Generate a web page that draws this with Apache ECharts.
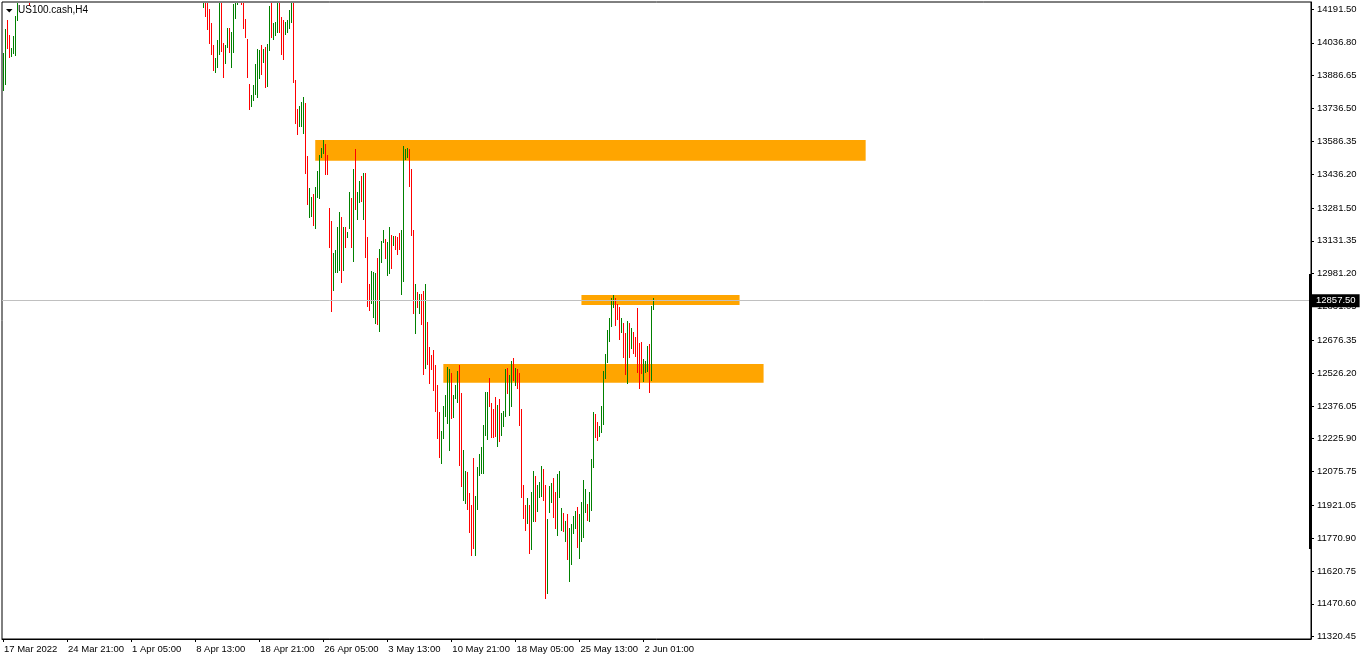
<!DOCTYPE html>
<html>
<head>
<meta charset="utf-8">
<script src="https://cdn.jsdelivr.net/npm/echarts@6/dist/echarts.min.js"></script>
<style>
html,body{margin:0;padding:0;background:#fff;}
#chart{width:1362px;height:660px;}
</style>
</head>
<body>
<div id="chart"></div>
<script>
// ---- data (US100.cash, H4) ----
var dateLabels = ["17 Mar 2022","24 Mar 21:00","1 Apr 05:00","8 Apr 13:00","18 Apr 21:00","26 Apr 05:00","3 May 13:00","10 May 21:00","18 May 05:00","25 May 13:00","2 Jun 01:00"];
var priceLabels = ["14191.50","14036.80","13886.65","13736.50","13586.35","13436.20","13281.50","13131.35","12981.20","12831.05","12676.35","12526.20","12376.05","12225.90","12075.75","11921.05","11770.90","11620.75","11470.60","11320.45"];
var highs = [
13990,14100,14141,14073,14013,14068,14160,14270,14330,14380,
14360,14420,14400,14300,14350,14410,14470,14520,14500,14560,
14610,14590,14640,14700,14680,14650,14720,14790,14760,14820,
14850,14830,14800,14760,14830,14900,14960,15010,14990,15060,
15120,15180,15230,15200,15150,15090,15030,15000,15060,15040,
14980,14920,14960,15010,14990,14930,14880,14850,14900,14940,
14910,14870,14820,14760,14700,14650,14690,14730,14710,14660,
14600,14560,14600,14640,14620,14580,14530,14490,14540,14590,
14570,14520,14470,14430,14470,14500,14460,14410,14380,14420,
14450,14410,14370,14340,14390,14420,14380,14340,14320,14330,
14290,14260,14235,14190,14126,14027,13966,14050,14250,14245,
14035,14027,14106,14103,14085,14214,14245,14260,14290,14270,
14250,14146,14053,13849,13798,13844,13940,14007,14004,14027,
14009,14019,14030,14205,14240,14126,14131,14245,14250,14156,
14141,14133,14141,14187,14240,14245,13867,13734,13748,13768,
13790,13763,13519,13371,13333,13345,13379,13452,13524,13557,
13592,13574,13524,13280,13222,13074,13089,13196,13262,13242,
13196,13196,13173,13353,13328,13460,13551,13356,13406,13428,
13440,13440,13150,12934,12992,12987,12983,13054,13094,13130,
13181,13140,13127,13193,13156,13153,13153,13147,13166,13181,
13565,13551,13557,13551,13458,13181,12934,12896,12888,12888,
12900,12934,12760,12644,12609,12632,12563,12472,12350,12261,
12376,12426,12553,12545,12525,12426,12472,12536,12563,12437,
12174,12078,12072,11976,11923,12136,11964,12095,12156,12190,
12289,12441,12441,12505,12391,12362,12418,12380,12408,12345,
12353,12545,12548,12518,12582,12594,12548,12544,12525,12361,
12014,11923,11956,11923,11984,12080,12056,12014,12029,12101,
12088,12014,11859,12010,12025,12048,11984,12065,12080,11908,
11888,11851,11882,11816,11836,11873,11897,11912,11882,11938,
12037,11996,11927,11981,12132,12347,12339,12301,12284,12376,
12536,12614,12723,12777,12871,12883,12871,12842,12830,12777,
12757,12708,12766,12757,12731,12716,12693,12823,12662,12670,
12591,12582,12650,12658,12835,12871];
var lows = [
13821,13849,14013,13972,13977,13990,13981,14141,14250,14290,
14280,14320,14300,14210,14250,14330,14390,14430,14440,14470,
14520,14500,14550,14600,14610,14560,14620,14690,14680,14730,
14770,14740,14700,14660,14720,14800,14860,14920,14900,14950,
15020,15080,15120,15100,15040,14980,14930,14900,14950,14930,
14870,14810,14850,14910,14880,14820,14770,14740,14800,14840,
14800,14770,14700,14640,14590,14540,14580,14620,14600,14540,
14480,14450,14500,14530,14510,14470,14420,14380,14430,14480,
14460,14410,14360,14330,14370,14400,14360,14310,14290,14320,
14350,14320,14280,14260,14290,14320,14290,14260,14245,14250,
14199,14161,14100,14035,13986,13913,13905,13928,13986,13999,
13882,13943,14016,13994,13928,13994,14152,14214,14230,14214,
14103,14065,13882,13736,13748,13775,13801,13790,13877,13894,
13948,13836,13841,14004,14065,14053,14073,14085,14085,13984,
13963,14076,14085,14103,14133,13858,13672,13618,13658,13658,
13623,13440,13300,13242,13245,13204,13191,13330,13328,13513,
13532,13437,13435,13104,12812,12906,12987,12987,12998,12942,
12998,13104,13150,13188,13104,13040,13277,13230,13310,13315,
13231,13059,12835,12815,12848,12784,12754,12749,12720,13036,
13127,13054,12975,12985,13006,13113,13094,13071,13092,12888,
12949,13505,13513,13383,13158,12802,12711,12830,12800,12751,
12522,12548,12568,12482,12545,12449,12351,12231,12144,12114,
12231,12330,12299,12174,12322,12327,12414,12393,12106,12011,
11946,11931,11905,11801,11694,11725,11694,11905,12060,12071,
12071,12243,12225,12376,12235,12232,12238,12193,12216,12243,
12284,12330,12434,12335,12376,12495,12472,12457,12289,11961,
11865,11809,11842,11705,11722,11851,11851,11897,11961,11964,
11946,11496,11522,11892,11935,11867,11819,11786,11958,11809,
11804,11758,11676,11577,11653,11793,11819,11732,11679,11760,
11775,11889,11854,11851,11900,12098,12235,12220,12238,12258,
12292,12505,12576,12673,12743,12830,12746,12772,12681,12716,
12601,12522,12482,12601,12642,12617,12606,12530,12457,12528,
12491,12530,12536,12441,12495,12819];
// G = bullish bar, R = bearish bar
var directions = ["GGRRGGGGGG","RGRRGGGRGG","GRGGRRGGRG","GRRGGGGRGG","GGRRRRRGRR","RGGRRRRGGR","RRRRRGGRRR","RGGRRRRGGR","RRRGGRRRGG","RRRRGGRRRG","GRRRRRGGGR","RGGRGGGGRR","RRRRGGGGGR","GRGGRGGGRR","RGGGGRRRGG","GRRGGRGGGG","GRRRRGGGGR","GRGGRGRGGR","GRRRGGGRGG","GRGGRGRRRG","GGGRRRGRGR","RGRRRRRRRG","GGGGRGGGRR","GGRRRRGGGG","GGGRRRRGRG","GGRGGRGRRR","RRGRGGRGGG","RRGGGRRGGG","RGRGGGGRGG","GGRGGGRRGG","GGGGGGRRRG","RRGRGRRRRR","GGGRGG"].join("");
var currentPrice = 12857.50;
// zones: [startBar, endBar, topPrice, bottomPrice]
var zones = [
  [156, 431, 13592.3, 13497.6],
  [289, 368, 12883.4, 12837.6],
  [220, 380, 12567.8, 12482.3]
];
var scaleBar = [12979.4, 11721.6];
var yMin = 11309.9, yMax = 14223.6;
var slotCount = 654;
var labelStep = 32;

// ---- build ----
var cats = [];
for (var k = 0; k < slotCount; k++) cats.push(String(k));
var barData = [];
for (var i = 0; i < highs.length; i++) {
  barData.push([i, highs[i], lows[i], directions.charAt(i) === 'G' ? 1 : 0]);
}
var FONT = "'Liberation Sans', Arial, sans-serif";
function showIdx(idx) { return idx % labelStep === 0 && idx / labelStep < dateLabels.length; }

var chart = echarts.init(document.getElementById('chart'), null, {renderer: 'canvas'});
var option = {
  animation: false,
  backgroundColor: '#ffffff',
  title: {
    text: 'US100.cash,H4', left: 18, top: 5, padding: 0,
    textStyle: {fontSize: 10, fontWeight: 'normal', color: '#000', fontFamily: FONT}
  },
  grid: {
    left: 2, right: 51, top: 2, bottom: 21,
    show: true, borderColor: '#000', borderWidth: 1, backgroundColor: '#fff',
    containLabel: false, outerBoundsMode: 'none'
  },
  xAxis: {
    type: 'category', data: cats, boundaryGap: true,
    axisLine: {show: true, lineStyle: {color: '#000', width: 1}},
    axisTick: {show: true, length: 3, alignWithLabel: true, interval: function (idx) { return showIdx(idx); }, lineStyle: {color: '#000'}},
    axisLabel: {
      show: true, interval: function (idx) { return showIdx(idx); },
      formatter: function (v, idx) { return showIdx(idx) ? dateLabels[idx / labelStep] : ''; },
      align: 'left', margin: 5, fontSize: 9.5, color: '#000', fontFamily: FONT, padding: [0, 0, 0, 1]
    },
    splitLine: {show: false}
  },
  yAxis: {
    type: 'value', position: 'right', min: yMin, max: yMax,
    axisLine: {show: true, lineStyle: {color: '#000', width: 1}},
    axisTick: {show: true, length: 3, lineStyle: {color: '#000'}, customValues: priceLabels.map(parseFloat)},
    axisLabel: {
      show: true, customValues: priceLabels.map(parseFloat),
      formatter: function (v) { return v.toFixed(2); },
      margin: 6, fontSize: 9.5, color: '#000', fontFamily: FONT
    },
    splitLine: {show: false}
  },
  series: [{
    type: 'custom',
    z: 3,
    encode: {x: 0, y: [1, 2]},
    data: barData,
    renderItem: function (params, api) {
      var idx = api.value(0);
      var top = api.coord([idx, api.value(1)]);
      var bot = api.coord([idx, api.value(2)]);
      var cs = params.coordSys;
      var minY = cs.y + 1, maxY = cs.y + cs.height - 1;
      var y1 = Math.round(top[1]), y2 = Math.round(bot[1]);
      if (y2 < minY || y1 > maxY) return null;
      y1 = Math.max(y1, minY); y2 = Math.min(y2, maxY);
      return {
        type: 'rect',
        shape: {x: Math.floor(top[0]), y: y1, width: 1, height: Math.max(1, y2 - y1 + 1)},
        style: {fill: api.value(3) ? '#008000' : '#ff0000'}
      };
    },
    markArea: {
      silent: true,
      z: 1,
      itemStyle: {color: '#ffa500', opacity: 1},
      label: {show: false},
      data: zones.map(function (zn) {
        return [{xAxis: String(zn[0]), yAxis: zn[2]}, {xAxis: String(zn[1]), yAxis: zn[3]}];
      })
    },
    markLine: {
      silent: true,
      symbol: ['none', 'none'],
      lineStyle: {color: '#c0c0c0', width: 1, type: 'solid'},
      label: {
        show: true, position: 'end', distance: 1,
        formatter: function () { return currentPrice.toFixed(2); },
        backgroundColor: '#000', color: '#fff', padding: [2, 4, 1, 4],
        fontSize: 9.5, fontFamily: FONT
      },
      data: [{yAxis: currentPrice}]
    }
  }]
};
chart.setOption(option);

var yTop = chart.convertToPixel({yAxisIndex: 0}, scaleBar[0]);
var yBot = chart.convertToPixel({yAxisIndex: 0}, scaleBar[1]);
var gridRight = 1362 - 51;
chart.setOption({
  graphic: [
    {type: 'rect', z: 10, shape: {x: gridRight - 2, y: yTop, width: 3, height: yBot - yTop}, style: {fill: '#000'}},
    {type: 'polygon', z: 10, shape: {points: [[6, 9], [12.5, 9], [9.25, 12.5]]}, style: {fill: '#000'}}
  ]
});
</script>
</body>
</html>
